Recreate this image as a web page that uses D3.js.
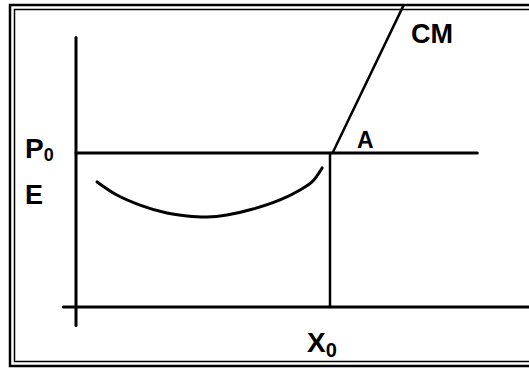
<!DOCTYPE html>
<html>
<head>
<meta charset="utf-8">
<script src="https://cdn.jsdelivr.net/npm/d3@7"></script>
<style>
  body { margin: 0; background: #fff; }
  svg { display: block; }
  text { font-family: "Liberation Sans", Arial, sans-serif; font-weight: bold; fill: #000; }
</style>
</head>
<body>
<svg id="chart"></svg>
<script>
// diagram values, in plot units (axes origin = 0,0 ; P0 = 10 ; X0 = 10)
const p0 = 10;
const x0 = 10;
const xAxisExtent = [-0.5, 18.2];
const yAxisExtent = [-1.2, 17.5];
const p0LineExtent = [0, 15.8];
const cmX = [10.1, 12.9];
const cmY = [10, 19.6];
const curveX = [0.83, 1.61, 2.52, 3.58, 4.37, 5.16, 5.94, 6.97, 8.03, 8.82, 9.29, 9.69];
const curveY = [8.12, 7.27, 6.62, 6.10, 5.91, 5.84, 5.97, 6.36, 6.95, 7.60, 8.12, 9.03];

const width = 529, height = 369;

const svg = d3.select("#chart")
    .attr("width", width)
    .attr("height", height);

// frame (double border, open on the right)
svg.append("path")
    .attr("d", "M535,5 H10 V366 H535")
    .attr("fill", "none")
    .attr("stroke", "#000")
    .attr("stroke-width", 2.5);
svg.append("path")
    .attr("d", "M535,9.5 H14.5 V361.5 H535")
    .attr("fill", "none")
    .attr("stroke", "#000")
    .attr("stroke-width", 1.5);

// scales
const x = d3.scaleLinear().domain([0, 10]).range([76, 330]);
const y = d3.scaleLinear().domain([0, 10]).range([307, 153]);

const line = d3.line().x(d => x(d[0])).y(d => y(d[1]));

function seg(pts, w) {
    svg.append("path")
        .attr("d", line(pts))
        .attr("fill", "none")
        .attr("stroke", "#000")
        .attr("stroke-width", w)
        .attr("stroke-linecap", "round");
}

// axes
seg([[0, yAxisExtent[0]], [0, yAxisExtent[1]]], 3);
seg([[xAxisExtent[0], 0], [xAxisExtent[1], 0]], 3);

// P0 horizontal line
seg([[p0LineExtent[0], p0], [p0LineExtent[1], p0]], 3);

// X0 vertical line
seg([[x0, 0], [x0, p0]], 2.5);

// CM line
seg(d3.zip(cmX, cmY), 2.5);

// U-shaped curve
svg.append("path")
    .attr("d", d3.line()
        .x(d => x(d[0]))
        .y(d => y(d[1]))
        .curve(d3.curveCatmullRom)(d3.zip(curveX, curveY)))
    .attr("fill", "none")
    .attr("stroke", "#000")
    .attr("stroke-width", 3)
    .attr("stroke-linecap", "round");

// labels
const p0Label = svg.append("text")
    .attr("x", 25)
    .attr("y", y(p0) + 5)
    .style("font-size", "28px");
p0Label.append("tspan").text("P");
p0Label.append("tspan").attr("dy", 3).style("font-size", "18px").text("0");

svg.append("text")
    .attr("x", 25)
    .attr("y", y(p0) + 51)
    .style("font-size", "27px")
    .text("E");

svg.append("text")
    .attr("x", x(x0) + 27)
    .attr("y", y(p0) - 5)
    .style("font-size", "23px")
    .text("A");

svg.append("text")
    .attr("x", 411)
    .attr("y", 43)
    .style("font-size", "27px")
    .text("CM");

const x0Label = svg.append("text")
    .attr("x", 307)
    .attr("y", 352)
    .style("font-size", "28px");
x0Label.append("tspan").text("X");
x0Label.append("tspan").attr("dy", 5).style("font-size", "20px").text("0");
</script>
</body>
</html>
